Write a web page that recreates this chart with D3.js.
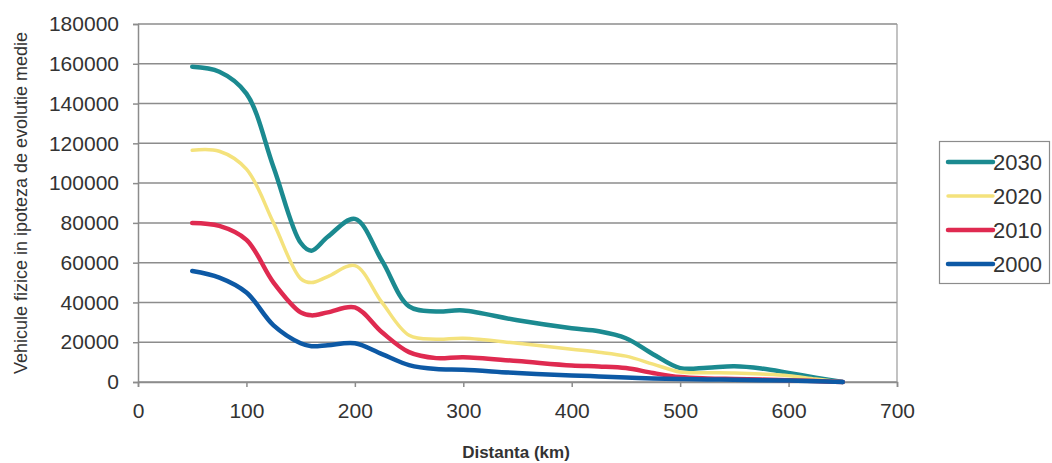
<!DOCTYPE html>
<html>
<head>
<meta charset="utf-8">
<script src="https://cdn.jsdelivr.net/npm/d3@7"></script>
<style>
  html, body { margin: 0; padding: 0; background: #fff; }
  #chart { width: 1052px; height: 463px; }
  text { font-family: "Liberation Sans", Arial, sans-serif; fill: #333; }
</style>
</head>
<body>
<div id="chart"></div>
<script>
// distances in km
const distances = [50, 75, 100, 125, 150, 160, 175, 200, 225, 250, 275, 300, 350, 400, 425, 450, 475, 500, 525, 550, 575, 600, 625, 650];

const values2030 = [158500, 156000, 145000, 108000, 70000, 66000, 73000, 82000, 61000, 38000, 35500, 36000, 31000, 27000, 25500, 22000, 14000, 7000, 7200, 7900, 6800, 4600, 2200, 0];
const values2020 = [116500, 116000, 107000, 80000, 52000, 50000, 53000, 58500, 40000, 23500, 21500, 22000, 19500, 16500, 15000, 13000, 9000, 5000, 4700, 4500, 4000, 3200, 1500, 0];
const values2010 = [80000, 78500, 71500, 50000, 35000, 33500, 35000, 37500, 25000, 15000, 12000, 12500, 10500, 8300, 7800, 7000, 4500, 2500, 1800, 1500, 1200, 900, 500, 0];
const values2000 = [55800, 52500, 45000, 28500, 19500, 18000, 18500, 19500, 14000, 8500, 6500, 6200, 4500, 3300, 2800, 2300, 1800, 1500, 1300, 1100, 900, 700, 400, 0];

const seriesNames = ["2030", "2020", "2010", "2000"];
const xTicks = [0, 100, 200, 300, 400, 500, 600, 700];
const yTicks = [0, 20000, 40000, 60000, 80000, 100000, 120000, 140000, 160000, 180000];

const series = [
    {name: seriesNames[0], values: values2030, color: "#1b8a90", width: 4.5},
    {name: seriesNames[1], values: values2020, color: "#f4e27c", width: 3.5},
    {name: seriesNames[2], values: values2010, color: "#df2a50", width: 4.5},
    {name: seriesNames[3], values: values2000, color: "#0d59a5", width: 4.5}
];

const width = 1052, height = 463;
const margin = {top: 24, right: 155, bottom: 81, left: 138};

const svg = d3.select("#chart")
    .append("svg")
    .attr("width", width)
    .attr("height", height);

const x = d3.scaleLinear()
    .domain([0, 700])
    .range([margin.left, width - margin.right]);

const y = d3.scaleLinear()
    .domain([0, 180000])
    .range([height - margin.bottom, margin.top]);

// horizontal gridlines
svg.append("g")
    .selectAll("line")
    .data(yTicks)
    .enter().append("line")
    .attr("x1", x(0))
    .attr("x2", x(700))
    .attr("y1", d => y(d))
    .attr("y2", d => y(d))
    .attr("stroke", "#8c8c8c")
    .attr("stroke-width", 1.5);

// right border of plot area
svg.append("line")
    .attr("x1", x(700)).attr("x2", x(700))
    .attr("y1", y(180000)).attr("y2", y(0))
    .attr("stroke", "#9a9a9a")
    .attr("stroke-width", 1.2);

// y axis
const yAxis = svg.append("g")
    .attr("transform", `translate(${x(0)},0)`)
    .call(d3.axisLeft(y).tickValues(yTicks).tickSize(5).tickPadding(14).tickFormat(d3.format("d")));
yAxis.select(".domain").attr("stroke", "#8c8c8c").attr("stroke-width", 1.5);
yAxis.selectAll(".tick line").attr("stroke", "#8c8c8c").attr("stroke-width", 1.5);
yAxis.selectAll("text")
    .attr("font-size", "21px")
    .attr("fill", "#2a2a2a")
    .style("font-family", "'Liberation Sans', Arial, sans-serif");

// x axis
const xAxis = svg.append("g")
    .attr("transform", `translate(0,${y(0)})`)
    .call(d3.axisBottom(x).tickValues(xTicks).tickSize(5).tickPadding(16).tickFormat(d3.format("d")));
xAxis.select(".domain").attr("stroke", "#8c8c8c").attr("stroke-width", 1.5);
xAxis.selectAll(".tick line").attr("stroke", "#8c8c8c").attr("stroke-width", 1.5);
xAxis.selectAll("text")
    .attr("font-size", "21px")
    .attr("fill", "#2a2a2a")
    .style("font-family", "'Liberation Sans', Arial, sans-serif");

// axis titles
svg.append("text")
    .attr("x", 516)
    .attr("y", 458)
    .attr("text-anchor", "middle")
    .attr("font-size", "17px")
    .attr("font-weight", "bold")
    .attr("fill", "#444")
    .text("Distanta (km)");

svg.append("text")
    .attr("transform", "translate(27,203) rotate(-90)")
    .attr("text-anchor", "middle")
    .attr("font-size", "18px")
    .attr("fill", "#333")
    .text("Vehicule fizice in ipoteza de evolutie medie");

// lines
const line = d3.line()
    .x((d, i) => x(distances[i]))
    .y(d => y(d))
    .curve(d3.curveCatmullRom.alpha(0.5));

svg.append("g")
    .selectAll("path")
    .data(series)
    .enter().append("path")
    .attr("d", d => line(d.values))
    .attr("fill", "none")
    .attr("stroke", d => d.color)
    .attr("stroke-width", d => d.width)
    .attr("stroke-linecap", "round")
    .attr("stroke-linejoin", "round");

// legend
const legend = svg.append("g");
legend.append("rect")
    .attr("x", 939.5)
    .attr("y", 141.5)
    .attr("width", 110)
    .attr("height", 142)
    .attr("fill", "#fff")
    .attr("stroke", "#8c8c8c")
    .attr("stroke-width", 1.2);

const rows = legend.selectAll("g.row")
    .data(series)
    .enter().append("g")
    .attr("class", "row")
    .attr("transform", (d, i) => `translate(0,${162 + i * 34})`);

rows.append("line")
    .attr("x1", 948).attr("x2", 993)
    .attr("y1", 0).attr("y2", 0)
    .attr("stroke", d => d.color)
    .attr("stroke-width", d => d.width)
    .attr("stroke-linecap", "round");

rows.append("text")
    .attr("x", 993)
    .attr("y", 8)
    .attr("font-size", "22px")
    .attr("fill", "#2a2a2a")
    .text(d => d.name);
</script>
</body>
</html>
